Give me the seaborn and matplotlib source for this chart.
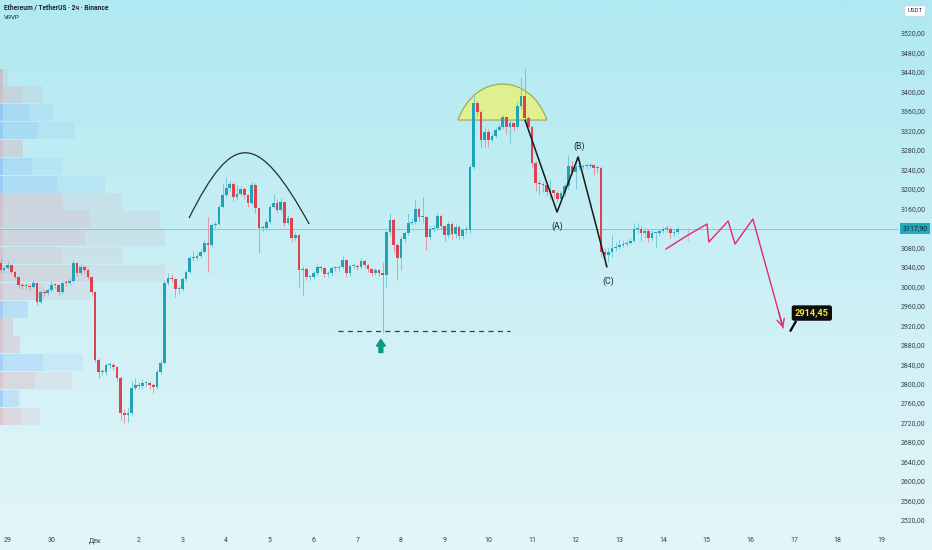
import numpy as np
import matplotlib
matplotlib.use("Agg")
import matplotlib.pyplot as plt
import matplotlib.transforms as mtransforms
from matplotlib.path import Path
from matplotlib.patches import PathPatch
import pandas as pd
import seaborn as sns

# ---------------- data ----------------
TITLE = "Ethereum / TetherUS · 2ч · Binance"
INDICATOR = "VRVP"
CURRENCY = "USDT"
DAY_LABELS = ["29", "30", "Дек", "2", "3", "4", "5", "6", "7", "8", "9", "10",
              "11", "12", "13", "14", "15", "16", "17", "18", "19"]
CANDLES_PER_DAY = 12          # 2h candles
FIRST_DAY_CANDLE = 2          # candle index that opens the 29th

first_open = 3048.0
close = [
    3033, 3037, 3044, 3029, 3019, 3003, 3000, 3000, 2998, 3007,
    2968, 2988, 2986, 2992, 3003, 3002, 2988, 3007, 3006, 3011,
    3048, 3027, 3040, 3033, 3019, 2988, 2849, 2824, 2824, 2838,
    2838, 2834, 2812, 2740, 2736, 2740, 2791, 2797, 2795, 2801,
    2801, 2797, 2793, 2824, 2842, 3007, 3017, 3015, 2994, 2994,
    3015, 3029, 3058, 3058, 3062, 3070, 3089, 3085, 3126, 3128,
    3163, 3187, 3202, 3210, 3183, 3189, 3200, 3187, 3171, 3208,
    3161, 3120, 3120, 3132, 3163, 3171, 3157, 3173, 3130, 3140,
    3099, 3105, 3033, 3035, 3019, 3019, 3027, 3040, 3037, 3025,
    3027, 3037, 3037, 3040, 3054, 3027, 3042, 3042, 3040, 3052,
    3044, 3035, 3027, 3033, 3027, 3023, 3111, 3136, 3085, 3058,
    3097, 3109, 3130, 3132, 3159, 3142, 3142, 3101, 3117, 3120,
    3144, 3123, 3105, 3128, 3107, 3122, 3103, 3115, 3115, 3245,
    3376, 3358, 3300, 3317, 3300, 3308, 3321, 3327, 3347, 3327,
    3335, 3327, 3370, 3391, 3345, 3327, 3253, 3212, 3210, 3208,
    3193, 3197, 3191, 3179, 3191, 3206, 3247, 3235, 3245, 3245,
    3247, 3247, 3249, 3243, 3243, 3070, 3064, 3070, 3078, 3081,
    3085, 3087, 3089, 3093, 3117, 3117, 3109, 3113, 3099, 3109,
    3109, 3113, 3117, 3117, 3109, 3111, 3117.9,
]
high = [
    3056, 3042, 3052, 3046, 3031, 3020, 3007, 3004, 3003, 3012,
    3008, 2993, 2994, 2996, 3010, 3007, 3004, 3010, 3012, 3016,
    3053, 3050, 3045, 3043, 3036, 3022, 2990, 2852, 2830, 2842,
    2845, 2842, 2837, 2815, 2748, 2752, 2806, 2812, 2803, 2810,
    2806, 2805, 2802, 2830, 2848, 3012, 3028, 3026, 3017, 3001,
    3020, 3034, 3064, 3072, 3068, 3076, 3094, 3142, 3130, 3134,
    3168, 3210, 3225, 3216, 3214, 3208, 3206, 3204, 3190, 3214,
    3212, 3163, 3126, 3138, 3168, 3190, 3180, 3182, 3176, 3146,
    3143, 3112, 3108, 3042, 3037, 3024, 3032, 3045, 3043, 3040,
    3032, 3042, 3042, 3044, 3062, 3056, 3046, 3048, 3046, 3058,
    3055, 3047, 3038, 3038, 3036, 3050, 3116, 3150, 3140, 3088,
    3103, 3114, 3150, 3140, 3179, 3162, 3183, 3146, 3124, 3125,
    3150, 3148, 3126, 3135, 3132, 3127, 3125, 3120, 3124, 3252,
    3392, 3380, 3362, 3325, 3322, 3315, 3328, 3333, 3352, 3350,
    3340, 3338, 3378, 3430, 3448, 3350, 3330, 3258, 3218, 3214,
    3212, 3220, 3198, 3196, 3196, 3212, 3270, 3258, 3265, 3252,
    3252, 3253, 3254, 3252, 3250, 3246, 3078, 3078, 3105, 3090,
    3098, 3094, 3094, 3100, 3130, 3130, 3125, 3120, 3118, 3115,
    3114, 3118, 3122, 3126, 3123, 3116, 3122,
]
low = [
    3028, 3028, 3035, 3026, 3014, 2996, 2994, 2995, 2993, 2997,
    2962, 2963, 2980, 2982, 2988, 2996, 2983, 2985, 3000, 3002,
    3008, 3022, 3024, 3028, 3014, 2983, 2845, 2812, 2818, 2818,
    2832, 2828, 2806, 2725, 2719, 2722, 2735, 2786, 2788, 2790,
    2794, 2790, 2780, 2790, 2820, 2840, 3002, 3008, 2978, 2985,
    2990, 3010, 3026, 3052, 3054, 3058, 3068, 3030, 3080, 3120,
    3125, 3160, 3183, 3196, 3176, 3180, 3185, 3180, 3162, 3166,
    3150, 3068, 3112, 3115, 3128, 3160, 3150, 3152, 3124, 3126,
    3090, 3094, 2999, 2982, 3012, 3012, 3015, 3022, 3032, 3020,
    3020, 3022, 3031, 3032, 3036, 3020, 3022, 3036, 3034, 3036,
    3038, 3030, 3022, 3024, 3022, 2906, 2998, 3105, 3070, 3013,
    3033, 3090, 3105, 3125, 3128, 3135, 3130, 3075, 3098, 3112,
    3115, 3118, 3092, 3100, 3096, 3100, 3096, 3098, 3108, 3110,
    3240, 3350, 3284, 3285, 3285, 3296, 3304, 3318, 3322, 3312,
    3294, 3318, 3322, 3365, 3340, 3320, 3245, 3195, 3188, 3194,
    3186, 3178, 3184, 3172, 3176, 3186, 3200, 3228, 3200, 3238,
    3240, 3240, 3242, 3228, 3232, 3060, 3044, 3050, 3060, 3072,
    3076, 3080, 3082, 3086, 3090, 3110, 3092, 3100, 3090, 3094,
    3078, 3104, 3110, 3112, 3100, 3104, 3108,
]
last_price = 3117.90
target_price = 2914.45
support_level = 2908.0
price_ticks = list(range(2520, 3521, 40))

# Visible range volume profile (rows top -> bottom), widths in screen px
vp_top = 3448.1
vp_step = 36.65
vp_main = [3, 22, 30, 38, 23, 32, 57, 63, 90, 85, 62, 90, 45, 28, 13, 20, 43, 35, 18, 22]
vp_total = [8, 43, 53, 75, 23, 62, 105, 122, 160, 165, 123, 165, 90, 28, 13, 20, 83, 72, 20, 40]
vp_is_up = [0, 0, 1, 1, 0, 1, 1, 0, 0, 0, 0, 0, 0, 1, 0, 0, 1, 0, 1, 0]

# Drawings (candle index, price)
arc_pts = [(51.8, 3140.1), (63.9, 3320.8), (70.5, 3320.8), (84.8, 3127.8)]
dome_pts = [(125.7, 3341.3), (130.4, 3439.9), (145.5, 3439.9), (150.1, 3341.3)]
abc_x = [144.1, 152.9, 158.7, 166.6]
abc_y = [3341.3, 3152.4, 3265.4, 3039.5]
abc_labels = [("(A)", 152.9, 3124), ("(B)", 158.9, 3287), ("(C)", 166.9, 3010)]
proj_x = [182.8, 188.9, 188.9, 194.1, 194.6, 199.9, 201.8, 206.7, 215.0]
proj_y = [3076.5, 3119.6, 3090.8, 3127.8, 3090.8, 3133.9, 3086.7, 3138.0, target_price]

# ---------------- style ----------------
sns.set_theme(style="white")
plt.rcParams['font.family'] = ['Roboto', 'DejaVu Sans']

UP = "#22a2b6"
DOWN = "#e0414f"
UP_W = "#79c9d5"
DOWN_W = "#e8949d"
TXT = "#1e252e"

W, H = 932, 550
fig = plt.figure(figsize=(W / 100, H / 100), dpi=100)

# background gradient
bg = fig.add_axes([0, 0, 1, 1], zorder=0)
g = np.linspace(0, 1, 256)[:, None, None]
top = np.array([176, 233, 241]) / 255
bot = np.array([228, 246, 249]) / 255
bg.imshow(top * (1 - g) + bot * g, aspect="auto", extent=[0, 1, 0, 1])
bg.axis("off")

PX = 3.64  # px per candle
rect = [0, 22 / H, 898 / W, 528 / H]
ylim = (2503.6, 3587.8)

# volume profile axes (screen px on x)
axv = fig.add_axes(rect, zorder=1)
axv.patch.set_visible(False)
axv.set_xlim(0, 898)
axv.set_ylim(*ylim)
axv.axis("off")
vp = pd.DataFrame({"main": vp_main, "total": vp_total, "up": vp_is_up})
vp["bottom"] = vp_top - (np.arange(len(vp)) + 1) * vp_step
for _, r in vp.iterrows():
    base = (60 / 255, 130 / 255, 1.0) if r["up"] else (235 / 255, 120 / 255, 140 / 255)
    a1, a2 = (0.15, 0.07) if r["up"] else (0.20, 0.10)
    axv.barh(r["bottom"] + 0.5, r["main"], left=0, height=vp_step - 1.5, align="edge",
             color=(*base, a1), linewidth=0)
    if r["total"] > r["main"]:
        axv.barh(r["bottom"] + 0.5, r["total"] - r["main"], left=r["main"], height=vp_step - 1.5,
                 align="edge", color=(*base, a2), linewidth=0)
    axv.barh(r["bottom"] + 0.5, 2.5, left=0, height=vp_step - 1.5, align="edge",
             color=(*base, 0.18), linewidth=0)

# main chart axes
ax = fig.add_axes(rect, zorder=2)
ax.patch.set_visible(False)
n = len(close)
df = pd.DataFrame({"close": close, "high": high, "low": low})
df["open"] = [first_open] + close[:-1]
df["idx"] = np.arange(n)
df["up"] = df["close"] >= df["open"]

ax.axhline(last_price, color="#78c3cc", lw=0.6, zorder=1)

ax.vlines(df["idx"], df["low"], df["high"],
          colors=np.where(df["up"], UP_W, DOWN_W), lw=0.7, zorder=3)
body = np.maximum((df["close"] - df["open"]).abs(), 1.8)
ax.bar(df["idx"], body, bottom=np.minimum(df["open"], df["close"]), width=0.74,
       color=np.where(df["up"], UP, DOWN), linewidth=0, zorder=4)

# arc over the first top
cub = [Path.MOVETO, Path.CURVE4, Path.CURVE4, Path.CURVE4]
ax.add_patch(PathPatch(Path(arc_pts, cub), fill=False, ec="#2a2e33", lw=0.9, zorder=5))
# yellow dome
dome = Path(dome_pts + [dome_pts[0]], cub + [Path.LINETO])
ax.add_patch(PathPatch(dome, fc="#e9f27e", ec="#8e9c35", lw=0.8, alpha=0.85, zorder=2))

# ABC zigzag
sns.lineplot(x=abc_x, y=abc_y, sort=False, color="#16191d", lw=1.1, ax=ax, zorder=6)
for lab, xx, yy in abc_labels:
    ax.text(xx, yy, lab, ha="center", va="center", fontsize=6.3, color=TXT, zorder=7)

# support dashed line and arrow
ax.hlines(support_level, 92.7, 140.0, colors="#3b3f44", lw=0.9, linestyles=(0, (4, 3.5)), zorder=5)
ax.annotate("", xy=(104.5, 2891), xytext=(104.5, 2864),
            arrowprops=dict(arrowstyle="simple,head_width=0.8,head_length=0.6,tail_width=0.35",
                            color="#0b9a80", mutation_scale=8, shrinkA=0, shrinkB=0), zorder=6)

# projection path
PINK = "#e22b6c"
sns.lineplot(x=proj_x, y=proj_y, sort=False, color=PINK, lw=1.0, ax=ax, zorder=6)
ax.annotate("", xy=(proj_x[-1], proj_y[-1]),
            xytext=(proj_x[-1] - 1.2, proj_y[-1] + 32),
            arrowprops=dict(arrowstyle="->,head_length=0.6,head_width=0.3", color=PINK, lw=1.0,
                            mutation_scale=9, shrinkA=0, shrinkB=0), zorder=6)

# target label
ax.plot([216.9, 218.6], [2907, 2929], color="black", lw=1.6, zorder=7, solid_capstyle="butt")
ax.text(222.9, 2945, f"{target_price:.2f}".replace(".", ","), ha="center", va="center",
        fontsize=6.6, fontweight="bold", color="#f7e83a", zorder=8,
        bbox=dict(boxstyle="round,pad=0.35,rounding_size=0.25", fc="#0d0d0d", ec="none"))

# axes setup
ax.set_xlim(-0.5 / PX, (898 - 0.5) / PX)
ax.set_ylim(*ylim)
for s in ax.spines.values():
    s.set_visible(False)
ax.grid(False)

shown = [t for t in price_ticks if abs(t - last_price) > 20]
ax.yaxis.tick_right()
ax.set_yticks(shown)
ax.set_yticklabels([f"{t:.2f}".replace(".", ",") for t in shown])
ax.tick_params(axis="y", length=0, pad=2.2, labelsize=5, labelcolor="#3a424c")

day_pos = [FIRST_DAY_CANDLE + CANDLES_PER_DAY * k for k in range(len(DAY_LABELS))]
ax.set_xticks(day_pos)
ax.set_xticklabels(DAY_LABELS)
ax.tick_params(axis="x", length=0, pad=6.5, labelsize=5, labelcolor="#3a424c")

# current price label
tr = mtransforms.blended_transform_factory(ax.transAxes, ax.transData)
ax.text(1.0 + 4.5 / 898, last_price, f"{last_price:.2f}".replace(".", ","), transform=tr,
        ha="left", va="center", fontsize=5, color="#0c1c22", zorder=9, clip_on=False,
        bbox=dict(boxstyle="square,pad=0.3", fc="#25aabd", ec="none"))

# header texts
fig.text(4 / W, 1 - 7 / H, TITLE, fontsize=4.8, fontweight="bold", color=TXT, va="center", ha="left")
fig.text(4 / W, 1 - 17.5 / H, INDICATOR, fontsize=4.6, color=TXT, va="center", ha="left")
fig.text(915 / W, 1 - 11 / H, CURRENCY, fontsize=4.4, color="#2a3038", va="center", ha="center",
         bbox=dict(boxstyle="round,pad=0.45,rounding_size=0.2", fc="white", ec="#c9d3d6", lw=0.6))

fig.savefig("out.png", dpi=100)
